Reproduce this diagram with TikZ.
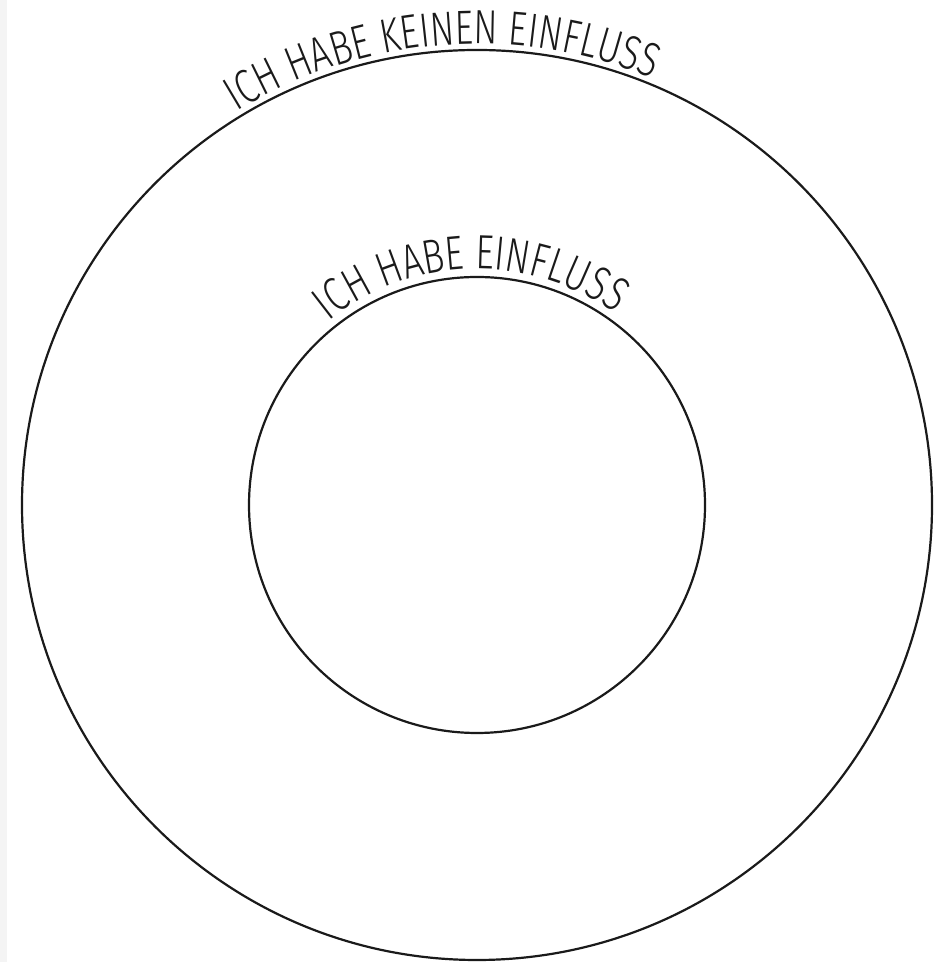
\documentclass[tikz,border=0pt]{standalone}
\usepackage{fontspec}
\newfontfamily\handfont{Fira Sans Light}[FakeStretch=0.75]
\usetikzlibrary{decorations.text}
\definecolor{inkblack}{HTML}{1A1A1A}
\definecolor{scanedge}{HTML}{F4F4F4}

\begin{document}
\begin{tikzpicture}[x=0.5pt,y=0.5pt,
  ring/.style={draw=inkblack, line width=1.1pt},
  arclabel/.style={decorate, decoration={text along path, text align=center,
    text={|\handfont\fontsize{24}{24}\selectfont\color{inkblack}|#1}}},
]
\useasboundingbox (0,0) rectangle (944,962);
\fill[scanedge] (0,0) rectangle (7,962);
\coordinate (mid) at (477,457);
% the two rings
\draw[ring] (mid) circle[radius=455];
\draw[ring] (mid) circle[radius=228];
% labels along the top of each ring
\path[arclabel={ICH HABE KEINEN EINFLUSS}] (mid) ++(150:461) arc[start angle=150, end angle=39, radius=461];
\path[arclabel={ICH HABE EINFLUSS}] (mid) ++(150:236) arc[start angle=150, end angle=33, radius=236];
\end{tikzpicture}
\end{document}
